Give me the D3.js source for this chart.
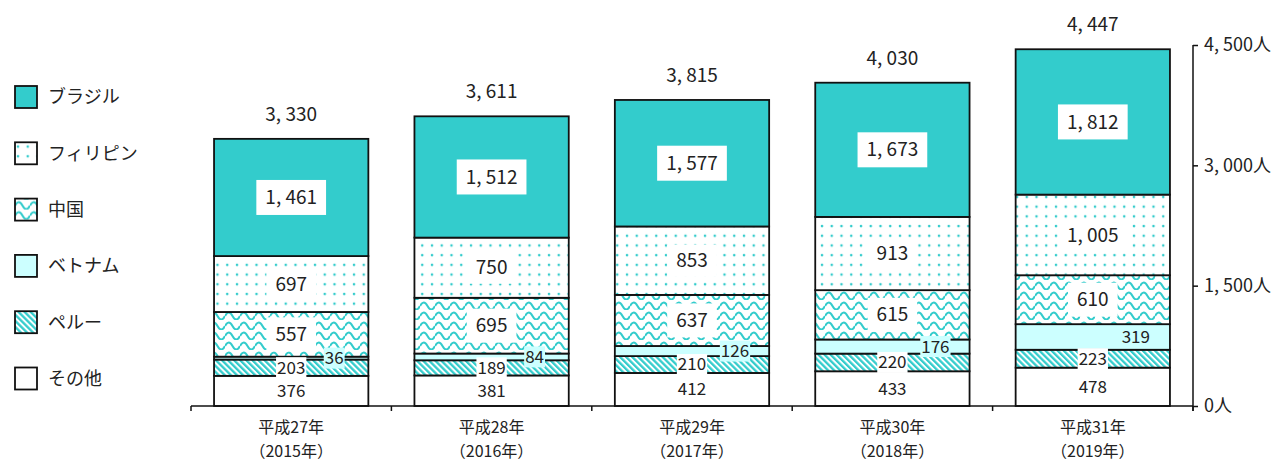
<!DOCTYPE html>
<html>
<head>
<meta charset="utf-8">
<script src="https://cdn.jsdelivr.net/npm/d3@7"></script>
<style>
  body { margin: 0; background: #fff; }
  text { font-family: "Noto Sans CJK JP", "Noto Sans", sans-serif; fill: #222; }
</style>
</head>
<body>
<script>
const years = ['平成27年', '平成28年', '平成29年', '平成30年', '平成31年'];
const yearsAD = ['（2015年）', '（2016年）', '（2017年）', '（2018年）', '（2019年）'];

// bottom to top
const other = [376, 381, 412, 433, 478];
const peru = [203, 189, 210, 220, 223];
const vietnam = [36, 84, 126, 176, 319];
const china = [557, 695, 637, 615, 610];
const philippines = [697, 750, 853, 913, 1005];
const brazil = [1461, 1512, 1577, 1673, 1812];

const totals = [3330, 3611, 3815, 4030, 4447];
const yTicks = [0, 1500, 3000, 4500];

const seriesNames = ['その他', 'ペルー', 'ベトナム', '中国', 'フィリピン', 'ブラジル'];
const seriesData = [other, peru, vietnam, china, philippines, brazil];

const width = 1281, height = 462;
const teal = '#33CCCC';

const rows = years.map((yr, i) => {
  const r = { year: yr };
  seriesNames.forEach((n, k) => r[n] = seriesData[k][i]);
  return r;
});

const stack = d3.stack().keys(seriesNames);
const layers = stack(rows);

const x = d3.scaleBand()
  .domain(years)
  .range([191, 1193]);
const barW = x.bandwidth() * 0.77;

const y = d3.scaleLinear()
  .domain([0, 4500])
  .range([406, 45]);

const fmt = v => d3.format(',')(v).replace(',', ', ');

const svg = d3.select(document.body).append('svg')
  .attr('width', width)
  .attr('height', height);

const defs = svg.append('defs');

// dots (フィリピン)
const pDots = defs.append('pattern')
  .attr('id', 'dots')
  .attr('patternUnits', 'userSpaceOnUse')
  .attr('width', 9.75).attr('height', 9.7);
pDots.append('rect').attr('width', 9.75).attr('height', 9.7).attr('fill', '#fff');
pDots.append('circle').attr('cx', 3).attr('cy', 3).attr('r', 1.3).attr('fill', teal);

// waves (中国)
const pWave = defs.append('pattern')
  .attr('id', 'wave')
  .attr('patternUnits', 'userSpaceOnUse')
  .attr('width', 15).attr('height', 10);
pWave.append('rect').attr('width', 15).attr('height', 10).attr('fill', '#fff');
pWave.append('path')
  .attr('d', 'M0,6 Q3.75,-1 7.5,6 T15,6')
  .attr('fill', 'none')
  .attr('stroke', teal)
  .attr('stroke-width', 2);

// diagonal stripes (ペルー)
const pStripe = defs.append('pattern')
  .attr('id', 'stripe')
  .attr('patternUnits', 'userSpaceOnUse')
  .attr('width', 4.3).attr('height', 10)
  .attr('patternTransform', 'rotate(-45)');
pStripe.append('rect').attr('width', 4.3).attr('height', 10).attr('fill', '#fff');
pStripe.append('rect').attr('width', 2.3).attr('height', 10).attr('fill', teal);

const fills = {
  'その他': '#fff',
  'ペルー': 'url(#stripe)',
  'ベトナム': '#CCFFFF',
  '中国': 'url(#wave)',
  'フィリピン': 'url(#dots)',
  'ブラジル': teal
};

// bars
const cx = d => x(d.data.year) + x.bandwidth() / 2;

svg.append('g')
  .selectAll('g')
  .data(layers)
  .join('g')
  .attr('fill', d => fills[d.key])
  .selectAll('rect')
  .data(d => d)
  .join('rect')
  .attr('x', d => cx(d) - barW / 2)
  .attr('y', d => y(d[1]))
  .attr('width', barW)
  .attr('height', d => y(d[0]) - y(d[1]))
  .attr('stroke', '#111')
  .attr('stroke-width', 1.8);

// x axis
svg.append('line')
  .attr('x1', 191).attr('x2', 1193)
  .attr('y1', 406).attr('y2', 406)
  .attr('stroke', '#111').attr('stroke-width', 1.5);

const xBounds = years.map(d => x(d)).concat([x(years[years.length - 1]) + x.bandwidth()]);
svg.append('g')
  .selectAll('line')
  .data(xBounds)
  .join('line')
  .attr('x1', d => d).attr('x2', d => d)
  .attr('y1', 406).attr('y2', 411)
  .attr('stroke', '#111').attr('stroke-width', 1.5);

const xl = svg.append('g')
  .selectAll('g')
  .data(years)
  .join('g')
  .attr('transform', d => `translate(${x(d) + x.bandwidth() / 2},0)`);
xl.append('text')
  .attr('y', 433)
  .attr('text-anchor', 'middle')
  .attr('font-size', 16)
  .text(d => d);
xl.append('text')
  .attr('y', 457)
  .attr('text-anchor', 'middle')
  .attr('font-size', 16)
  .text((d, i) => yearsAD[i]);

// y axis (right)
const yAxis = d3.axisRight(y)
  .tickValues(yTicks)
  .tickSize(5)
  .tickFormat(d => fmt(d) + '人');

const ya = svg.append('g')
  .attr('transform', 'translate(1193,0)')
  .call(yAxis);
ya.select('.domain').attr('stroke', '#111').attr('stroke-width', 1.5).attr('d', `M0,${y(4500)}V${y(0) + 5}`);
ya.selectAll('.tick line').attr('stroke', '#111').attr('stroke-width', 1.5);
ya.selectAll('.tick text')
  .attr('x', 11)
  .attr('font-size', 18)
  .attr('font-family', '"Noto Sans CJK JP", sans-serif')
  .attr('fill', '#222');

// totals
svg.append('g')
  .selectAll('text')
  .data(totals)
  .join('text')
  .attr('x', (d, i) => x(years[i]) + x.bandwidth() / 2)
  .attr('y', d => y(d) - 18)
  .attr('text-anchor', 'middle')
  .attr('font-size', 19)
  .text(d => fmt(d));

// segment labels
function labels(key, opts) {
  const layer = layers.find(l => l.key === key);
  const g = svg.append('g')
    .selectAll('g')
    .data(layer)
    .join('g')
    .attr('transform', d => `translate(${cx(d) + (opts.dx || 0)},${(y(d[0]) + y(d[1])) / 2})`);
  g.append('text')
    .attr('text-anchor', 'middle')
    .attr('dy', '0.35em')
    .attr('font-size', opts.size)
    .text(d => fmt(d.data[key]));
  if (opts.box) {
    g.each(function () {
      const node = d3.select(this);
      const bb = node.select('text').node().getBBox();
      node.insert('rect', 'text')
        .attr('x', -bb.width / 2 - opts.padX)
        .attr('y', -opts.boxH / 2)
        .attr('width', bb.width + opts.padX * 2)
        .attr('height', opts.boxH)
        .attr('fill', opts.box);
    });
  }
}

labels('その他', { size: 17 });
labels('ペルー', { size: 17, box: '#fff', padX: 1, boxH: 21 });
labels('ベトナム', { size: 17, box: '#CCFFFF', padX: 1, boxH: 21, dx: 43 });
labels('中国', { size: 19, box: '#fff', padX: 9, boxH: 34 });
labels('フィリピン', { size: 19, box: '#fff', padX: 9, boxH: 32 });
labels('ブラジル', { size: 19, box: '#fff', padX: 9, boxH: 35 });

// legend
const legendOrder = seriesNames.slice().reverse();
const lg = svg.append('g')
  .selectAll('g')
  .data(legendOrder)
  .join('g')
  .attr('transform', (d, i) => `translate(15,${97 + i * 56.3})`);
lg.append('rect')
  .attr('x', 0).attr('y', -11)
  .attr('width', 22).attr('height', 22)
  .attr('fill', d => fills[d])
  .attr('stroke', '#111')
  .attr('stroke-width', 1.8);
lg.append('text')
  .attr('x', 33)
  .attr('dy', '0.35em')
  .attr('font-size', 18)
  .text(d => d);
</script>
</body>
</html>
